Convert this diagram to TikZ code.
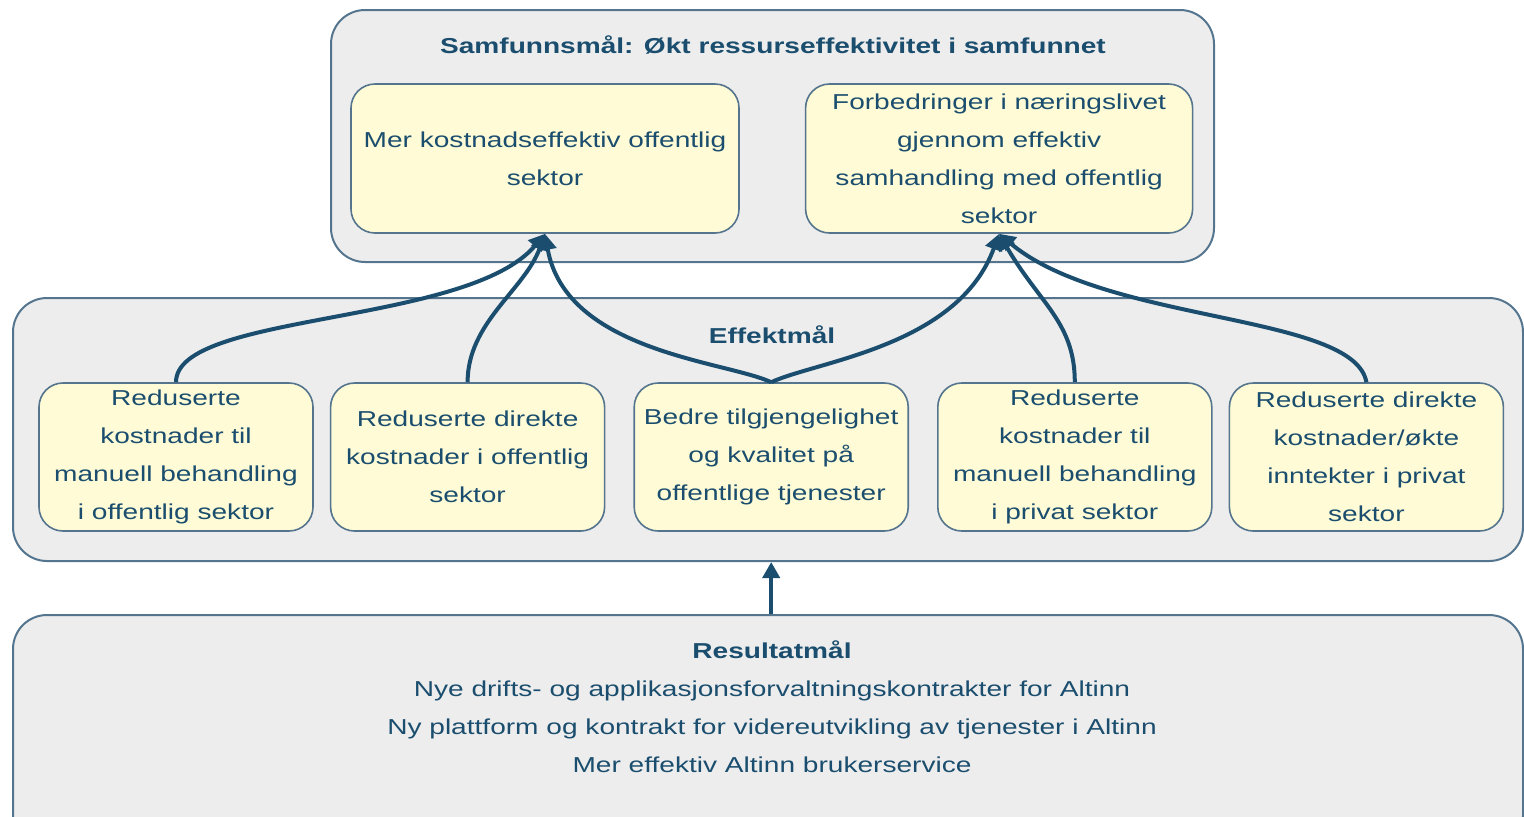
\documentclass[tikz,border=0pt]{standalone}
\usepackage{fontspec}
\setmainfont{Liberation Sans}[FakeStretch=1.3]
\usetikzlibrary{positioning,arrows.meta}
\definecolor{maalblaa}{RGB}{27,78,110}
\definecolor{rammeblaa}{RGB}{84,117,141}
\definecolor{rammegraa}{RGB}{237,237,237}
\definecolor{maalgul}{RGB}{255,251,214}
\tikzset{
  ramme/.style={draw=rammeblaa,line width=1pt,fill=rammegraa,rounded corners=17pt,inner sep=0pt},
  maal/.style={draw=rammeblaa,line width=0.8pt,fill=maalgul,rounded corners=12pt,align=center,
    text=maalblaa,inner sep=0pt,font=\fontsize{10.8}{19}\selectfont},
  effekt/.style={maal,minimum width=137pt,minimum height=74pt},
  overskrift/.style={text=maalblaa,font=\fontsize{10.8}{19}\selectfont\bfseries},
  pil/.style={draw=maalblaa,line width=2pt,-{Triangle[length=8pt,width=8.5pt]}}
}
\begin{document}
\begin{tikzpicture}[x=0.5pt,y=-0.5pt]
\useasboundingbox (0,0) rectangle (1524,816);
% rammer
\node[ramme,minimum width=441.5pt,minimum height=126pt] (samfunn) at (772.5,136) {};
\node[ramme,minimum width=755pt,minimum height=131.5pt] (effektramme) at (768,429.5) {};
\node[ramme,minimum width=755pt,minimum height=117pt] (resultat) at (768,732) {};
\node[overskrift] (samfunnstitel) at (773,45) {Samfunnsmål: Økt ressurseffektivitet i samfunnet};
\node[overskrift] (effekttitel) at (772,335) {Effektmål};
% samfunnsmaal
\node[maal,minimum width=194pt,minimum height=74.5pt] (A) at (545,158.5) {Mer kostnadseffektiv offentlig\\sektor};
\node[maal,minimum width=193.5pt,minimum height=74.5pt] (B) [right=32.5pt of A] {Forbedringer i næringslivet\\gjennom effektiv\\samhandling med offentlig\\sektor};
% effektmaal
\node[effekt] (b1) at (176,457) {Reduserte\\kostnader til\\manuell behandling\\i offentlig sektor};
\node[effekt] (b2) [right=8pt of b1] {Reduserte direkte\\kostnader i offentlig\\sektor};
\node[effekt] (b3) [right=14pt of b2] {Bedre tilgjengelighet\\og kvalitet på\\offentlige tjenester};
\node[effekt] (b4) [right=14pt of b3] {Reduserte\\kostnader til\\manuell behandling\\i privat sektor};
\node[effekt] (b5) [right=8pt of b4] {Reduserte direkte\\kostnader/økte\\inntekter i privat\\sektor};
% resultatmaal
\node[align=center,text=maalblaa,font=\fontsize{10.8}{19}\selectfont] (resultattekst) at (772,706.5)
  {\textbf{Resultatmål}\\Nye drifts- og applikasjonsforvaltningskontrakter for Altinn\\Ny plattform og kontrakt for videreutvikling av tjenester i Altinn\\Mer effektiv Altinn brukerservice};
% piler
\draw[pil] (b1.north) to[out=90,in=-130,out distance=35pt,in distance=60pt] (A.south);
\draw[pil] (b2.north) to[out=90,in=-110,out distance=30pt,in distance=30pt] (A.south);
\draw[pil] (b3.north) to[out=155,in=-80,out distance=25pt,in distance=60pt] (A.south);
\draw[pil] (b3.north) to[out=25,in=-110,out distance=25pt,in distance=60pt] (B.south);
\draw[pil] (b4.north) to[out=90,in=-60,out distance=30pt,in distance=40pt] (B.south);
\draw[pil] (b5.north) to[out=100,in=-40,out distance=35pt,in distance=70pt] (B.south);
\draw[pil] (resultat.north -| b3.south) -- (effektramme.south -| b3.south);
\end{tikzpicture}
\end{document}
